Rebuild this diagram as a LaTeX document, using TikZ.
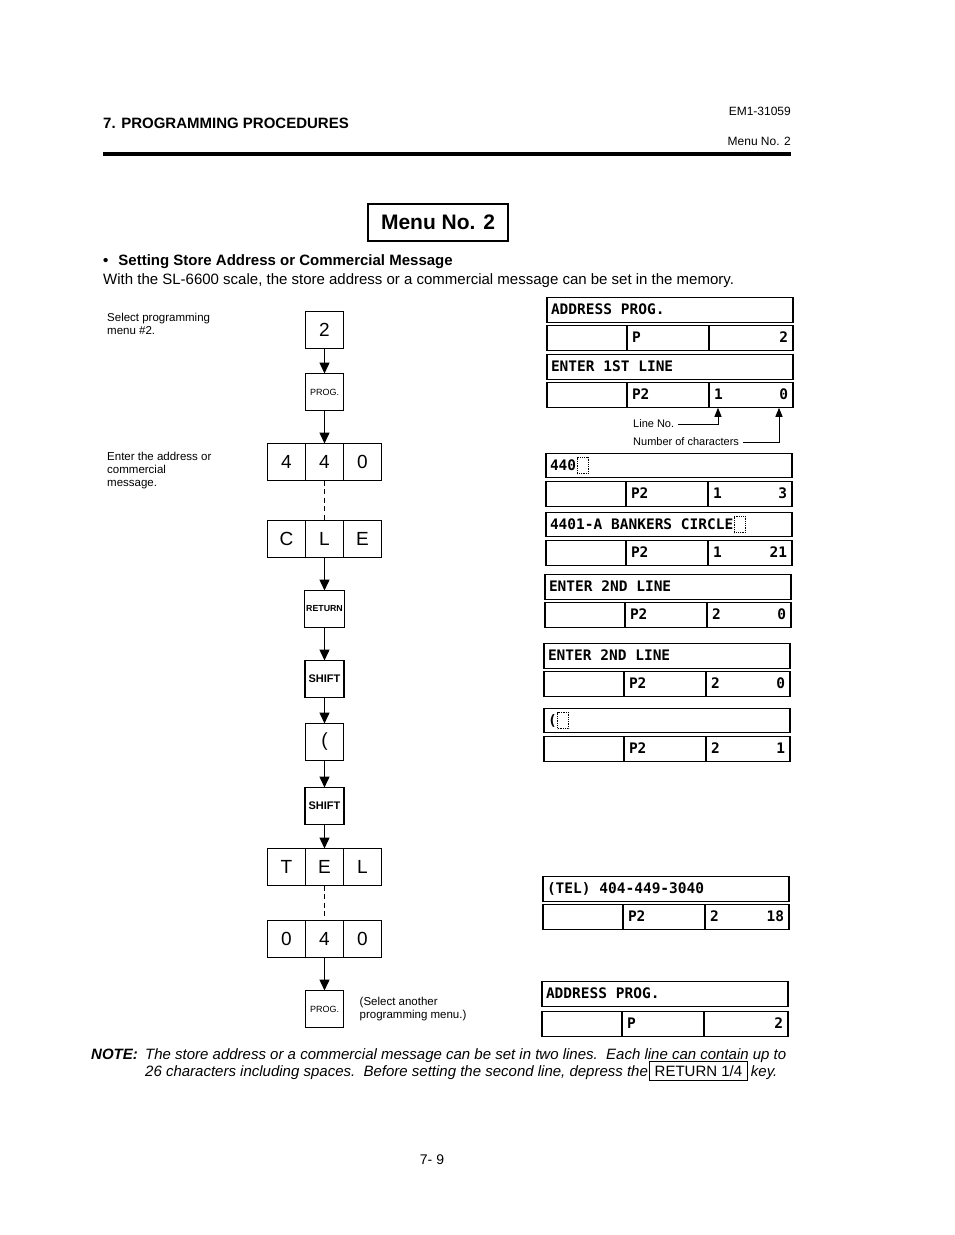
\documentclass[tikz,border=0pt]{standalone}
\usepackage{fontspec}
\setmainfont{Liberation Sans}
\newfontfamily\lcdfont[WordSpace={1,0,0}]{DejaVu Sans Mono}
\usetikzlibrary{arrows.meta, positioning}

\begin{document}
\begin{tikzpicture}[
      x=1pt, y=-1pt,
      key/.style={rectangle, draw, line width=1.4pt, minimum width=38pt, minimum height=37pt, inner sep=0pt, outer sep=0pt, font=\fontsize{19}{19}\selectfont},
      progkey/.style={key, font=\fontsize{9}{9}\selectfont},
      returnkey/.style={key, minimum width=40pt, font=\bfseries\fontsize{8.8}{8.8}\selectfont},
      shiftkey/.style={key, minimum width=39pt, font=\bfseries\fontsize{11}{11}\selectfont},
      arrow/.style={-{Triangle[width=10pt, length=11pt]}, line width=1.4pt},
      dashline/.style={line width=0.8pt, dash pattern=on 5pt off 3.5pt},
      titlebox/.style={rectangle, draw, line width=1.5pt, minimum width=140pt, minimum height=37pt, font=\bfseries\fontsize{21}{21}\selectfont},
      lcdline/.style={rectangle, draw, line width=1.4pt, minimum width=246pt, minimum height=24.5pt, text width=238pt, inner xsep=4pt, inner ysep=0pt, outer sep=0pt, align=flush left, font=\lcdfont\bfseries\fontsize{14.5}{14.5}\selectfont, text height=11pt, text depth=2pt},
      lcdtext/.style={inner xsep=4pt, inner ysep=0pt, outer sep=0pt, font=\lcdfont\bfseries\fontsize{14.5}{14.5}\selectfont, text height=11pt, text depth=2pt},
      cell/.style={rectangle, draw, line width=1.4pt, minimum height=25pt, inner xsep=5pt, inner ysep=0pt, outer sep=0pt, align=flush left, font=\lcdfont\bfseries\fontsize{14.5}{14.5}\selectfont, text height=11pt, text depth=2pt},
      cella/.style={cell, text width=70pt},
      cellb/.style={cell, text width=72pt},
      cellc/.style={cell, text width=74pt},
      cursor/.style={draw, densely dotted, line width=0.8pt, minimum width=11pt, minimum height=16pt, inner sep=0pt, outer sep=0pt},
      pointer/.style={-{Triangle[width=7pt, length=9pt]}, line width=1pt},
      remark/.style={inner sep=0pt, align=left, font=\fontsize{11.5}{13}\selectfont},
      annot/.style={inner xsep=4pt, inner ysep=0pt, align=left, font=\fontsize{11}{13}\selectfont},
      heading/.style={anchor=base west, inner sep=0pt, font=\bfseries\fontsize{15}{18}\selectfont},
      body/.style={anchor=base west, inner sep=0pt, font=\fontsize{15}{18}\selectfont},
      notetext/.style={anchor=base west, inner sep=0pt, font=\itshape\fontsize{15}{17}\selectfont},
      keybox/.style={rectangle, draw, line width=1pt, inner xsep=5pt, inner ysep=3.5pt, text height=11pt, text depth=1pt, font=\fontsize{15}{17}\selectfont}
    ]

    \path[use as bounding box, fill=white] (0,0) rectangle (954,1235);

    \node[heading] (chapter) at (103,128.5) {7. PROGRAMMING PROCEDURES};
    \node[anchor=base east, inner sep=0pt, font=\fontsize{12}{12}\selectfont] (docno) at (791,115.5) {EM1-31059};
    \node[anchor=base east, inner sep=0pt, font=\fontsize{12}{12}\selectfont] (menuref) at (791,145.5) {Menu No. 2};
    \draw[line width=4pt] (103,154) -- (791,154);

    \node[titlebox] (title) at (438,222.5) {Menu No. 2};
    \node[heading] (topic) at (103,265.5) {\textbullet\hspace{10pt}Setting Store Address or Commercial Message};
    \node[body] (intro) at (103,284.5) {With the SL-6600 scale, the store address or a commercial message can be set in the memory.};

    \node[remark, anchor=north west] (step1) at (107,313) {Select programming\\menu \#2.};
    \node[remark, anchor=north west] (step2) at (107,452) {Enter the address or\\commercial\\message.};

    \node[key] (k2) at (324.5,330) {2};
    \node[progkey, below=25pt of k2] (kprog) {PROG.};
    \node[key, below=33pt of kprog] (k440b) {4};
    \node[key, left=0pt of k440b] (k440a) {4};
    \node[key, right=0pt of k440b] (k440c) {0};
    \node[key, below=40pt of k440b] (kcleb) {L};
    \node[key, left=0pt of kcleb] (kclea) {C};
    \node[key, right=0pt of kcleb] (kclec) {E};
    \node[returnkey, below=33pt of kcleb] (kret) {RETURN};
    \node[shiftkey, below=33pt of kret] (kshift) {SHIFT};
    \node[key, below=26pt of kshift] (kparen) {(};
    \node[shiftkey, below=27pt of kparen] (kshiftb) {SHIFT};
    \node[key, below=24pt of kshiftb] (ktelb) {E};
    \node[key, left=0pt of ktelb] (ktela) {T};
    \node[key, right=0pt of ktelb] (ktelc) {L};
    \node[key, below=35pt of ktelb] (k040b) {4};
    \node[key, left=0pt of k040b] (k040a) {0};
    \node[key, right=0pt of k040b] (k040c) {0};
    \node[progkey, below=33pt of k040b] (kprogb) {PROG.};
    \node[remark, inner xsep=0pt, right=16pt of kprogb] (another) {(Select another\\programming menu.)};

    \draw[arrow] (k2) -- (kprog);
    \draw[arrow] (kprog) -- (k440b);
    \draw[dashline] (k440b) -- (kcleb);
    \draw[arrow] (kcleb) -- (kret);
    \draw[arrow] (kret) -- (kshift);
    \draw[arrow] (kshift) -- (kparen);
    \draw[arrow] (kparen) -- (kshiftb);
    \draw[arrow] (kshiftb) -- (ktelb);
    \draw[dashline] (ktelb) -- (k040b);
    \draw[arrow] (k040b) -- (kprogb);

    \node[lcdline] (d1t) at (670,310) {ADDRESS PROG.};
    \node[cella, below=3pt of d1t.south west, anchor=north west] (d1a) {};
    \node[cellb, right=0pt of d1a] (d1b) {P};
    \node[cellc, right=0pt of d1b] (d1c) {\null\hfill 2};

    \node[lcdline] (d2t) at (670,367) {ENTER 1ST LINE};
    \node[cella, below=3.5pt of d2t.south west, anchor=north west] (d2a) {};
    \node[cellb, right=0pt of d2a] (d2b) {P2};
    \node[cellc, right=0pt of d2b] (d2c) {1\hfill 0};

    \node[annot, anchor=west] (lineno) at (629,424) {Line No.};
    \node[annot, anchor=west] (charcount) at (629,442) {Number of characters};
    \coordinate (lineptr) at ([xshift=9pt]d2c.south west);
    \coordinate (countptr) at ([xshift=-14pt]d2c.south east);
    \draw[pointer] (lineno.east) -| (lineptr);
    \draw[pointer] (charcount.east) -| (countptr);

    \node[lcdline] (d3t) at (669,465.5) {};
    \node[lcdtext, anchor=west] (d3txt) at (d3t.west) {440};
    \node[cursor, right=-3pt of d3txt] (d3cur) {};
    \node[cella, below=3.5pt of d3t.south west, anchor=north west] (d3a) {};
    \node[cellb, right=0pt of d3a] (d3b) {P2};
    \node[cellc, right=0pt of d3b] (d3c) {1\hfill 3};

    \node[lcdline] (d4t) at (669,524.5) {};
    \node[lcdtext, anchor=west] (d4txt) at (d4t.west) {4401-A BANKERS CIRCLE};
    \node[cursor, right=-3pt of d4txt] (d4cur) {};
    \node[cella, below=3.5pt of d4t.south west, anchor=north west] (d4a) {};
    \node[cellb, right=0pt of d4a] (d4b) {P2};
    \node[cellc, right=0pt of d4b] (d4c) {1\hfill 21};

    \node[lcdline] (d5t) at (668,587) {ENTER 2ND LINE};
    \node[cella, below=3.5pt of d5t.south west, anchor=north west] (d5a) {};
    \node[cellb, right=0pt of d5a] (d5b) {P2};
    \node[cellc, right=0pt of d5b] (d5c) {2\hfill 0};

    \node[lcdline] (d6t) at (667,656) {ENTER 2ND LINE};
    \node[cella, below=3.5pt of d6t.south west, anchor=north west] (d6a) {};
    \node[cellb, right=0pt of d6a] (d6b) {P2};
    \node[cellc, right=0pt of d6b] (d6c) {2\hfill 0};

    \node[lcdline] (d7t) at (667,720.5) {};
    \node[lcdtext, anchor=west] (d7txt) at (d7t.west) {(};
    \node[cursor, right=-3pt of d7txt] (d7cur) {};
    \node[cella, below=3.5pt of d7t.south west, anchor=north west] (d7a) {};
    \node[cellb, right=0pt of d7a] (d7b) {P2};
    \node[cellc, right=0pt of d7b] (d7c) {2\hfill 1};

    \node[lcdline] (d8t) at (666,889) {(TEL) 404-449-3040};
    \node[cella, below=3.5pt of d8t.south west, anchor=north west] (d8a) {};
    \node[cellb, right=0pt of d8a] (d8b) {P2};
    \node[cellc, right=0pt of d8b] (d8c) {2\hfill 18};

    \node[lcdline] (d9t) at (665,994) {ADDRESS PROG.};
    \node[cella, below=5pt of d9t.south west, anchor=north west] (d9a) {};
    \node[cellb, right=0pt of d9a] (d9b) {P};
    \node[cellc, right=0pt of d9b] (d9c) {\null\hfill 2};

    \node[notetext, font=\bfseries\itshape\fontsize{15}{17}\selectfont] (notehead) at (91,1059) {NOTE:};
    \node[notetext] (note1) at (145,1059) {The store address or a commercial message can be set in two lines.\ \ Each line can contain up to};
    \node[notetext] (note2) at (145,1076) {26 characters including spaces.\ \ Before setting the second line, depress the};
    \node[keybox, right=1pt of note2.base east, anchor=base west] (retkey) {RETURN 1/4};
    \node[notetext, right=3pt of retkey.base east, anchor=base west] (keyword) {key.};

    \node[font=\fontsize{14}{14}\selectfont, inner sep=0pt] (pageno) at (432,1160) {7- 9};
\end{tikzpicture}
\end{document}
